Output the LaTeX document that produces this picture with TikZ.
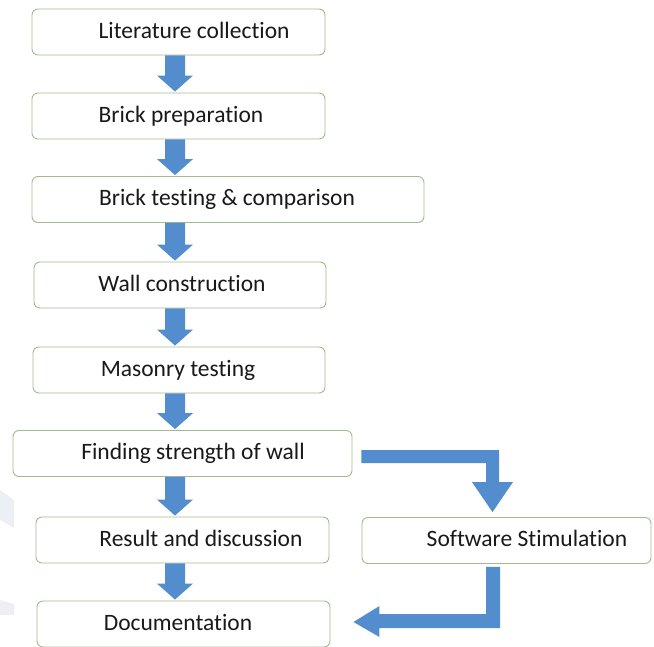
\documentclass[tikz,border=0pt]{standalone}
\usepackage{fontspec}
\setmainfont{Carlito}[Ligatures={NoCommon,NoContextual}]
\usetikzlibrary{calc}
\definecolor{boxline}{RGB}{165,186,140}
\definecolor{flowblue}{RGB}{84,141,206}
\definecolor{txtc}{RGB}{25,25,25}
\definecolor{wm}{RGB}{236,240,245}
\tikzset{
  x=1pt, y=-1pt,
  stepbox/.style={draw=boxline, line width=0.9pt, rounded corners=6pt, fill=white, minimum height=46pt, inner sep=0pt},
  lbl/.style={anchor=base, inner sep=0pt, text=txtc, font=\fontsize{23.5}{27}\selectfont},
  flow/.style={fill=flowblue, draw=none}
}
\newcommand\vflow[2]{%
  \fill[flow] let \p1=(#1.south), \p2=(#2.north) in
    (165pt,\y1) -- (185pt,\y1) -- (185pt,\y2+17pt) -- (193pt,\y2+17pt) --
    (175pt,\y2+1pt) -- (157pt,\y2+17pt) -- (165pt,\y2+17pt) -- cycle;}
\begin{document}
\begin{tikzpicture}
\useasboundingbox[fill=white] (0,0) rectangle (654,646);
% faint watermark shapes
\fill[wm] (0,490) -- (14,500) -- (14,528) -- (0,520) -- cycle;
\fill[wm] (0,600) -- (14,604) -- (14,615) -- (0,615) -- cycle;
% boxes
\node[stepbox, minimum width=293pt] (b1) at (178.5,32) {};
\node[stepbox, minimum width=293pt] (b2) at (178.5,116) {};
\node[stepbox, minimum width=392pt] (b3) at (228,199.5) {};
\node[stepbox, minimum width=292pt] (b4) at (180,285) {};
\node[stepbox, minimum width=292pt] (b5) at (179,370) {};
\node[stepbox, minimum width=339pt] (b6) at (182.5,453.5) {};
\node[stepbox, minimum width=293pt] (b7) at (182.5,540) {};
\node[stepbox, minimum width=289pt] (b8) at (506.5,540.5) {};
\node[stepbox, minimum width=293pt] (b9) at (183.5,624) {};
% labels
\node[lbl] (t1) at ([xshift=15.5pt,yshift=-6pt]b1.center) {Literature collection};
\node[lbl] (t2) at ([xshift=2.5pt,yshift=-6pt]b2.center) {Brick preparation};
\node[lbl] (t3) at ([xshift=-1pt,yshift=-6pt]b3.center) {Brick testing \& comparison};
\node[lbl] (t4) at ([xshift=2pt,yshift=-6pt]b4.center) {Wall construction};
\node[lbl] (t5) at ([xshift=-1pt,yshift=-6pt]b5.center) {Masonry testing};
\node[lbl] (t6) at ([xshift=10.5pt,yshift=-6pt]b6.center) {Finding strength of wall};
\node[lbl] (t7) at ([xshift=18.5pt,yshift=-6pt]b7.center) {Result and discussion};
\node[lbl] (t8) at ([xshift=20.5pt,yshift=-6pt]b8.center) {Software Stimulation};
\node[lbl] (t9) at ([xshift=-5.5pt,yshift=-6pt]b9.center) {Documentation};
% down arrows
\vflow{b1}{b2}
\vflow{b2}{b3}
\vflow{b3}{b4}
\vflow{b4}{b5}
\vflow{b5}{b6}
\vflow{b6}{b7}
\vflow{b7}{b9}
% elbow arrow: finding strength -> software
\fill[flow] let \p1=(b6.east), \p2=(b8.north) in
  (\x1+9pt,\y1+3.5pt) -- (499pt,\y1+3.5pt) -- (499pt,\y2+35pt) -- (513pt,\y2+35pt) --
  (492.5pt,\y2+5pt) -- (472pt,\y2+35pt) -- (486pt,\y2+35pt) -- (486pt,\y1-9.5pt) --
  (\x1+9pt,\y1-9.5pt) -- cycle;
% elbow arrow: software -> documentation
\fill[flow] let \p1=(b8.south), \p2=(b9.east) in
  (486pt,\y1-3pt) -- (500pt,\y1-3pt) -- (500pt,\y2-4pt) -- (\x2+49pt,\y2-4pt) --
  (\x2+49pt,\y2-13pt) -- (\x2+23pt,\y2+2pt) -- (\x2+49pt,\y2+18pt) --
  (\x2+49pt,\y2+10pt) -- (486pt,\y2+10pt) -- cycle;
\end{tikzpicture}
\end{document}
